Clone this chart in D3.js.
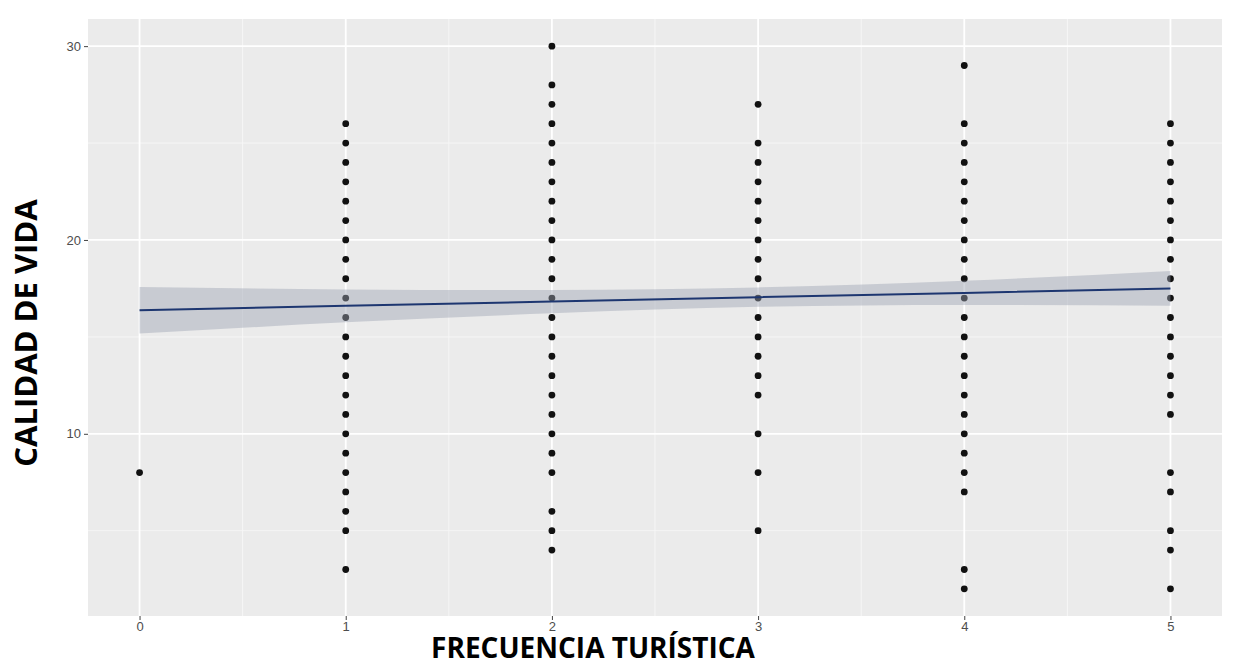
<!DOCTYPE html>
<html>
<head>
<meta charset="utf-8">
<script src="https://cdn.jsdelivr.net/npm/d3@7"></script>
<style>
  body { margin: 0; background: #fff; }
  svg { display: block; }
</style>
</head>
<body>
<div id="chart"></div>
<script>
// Frecuencia turistica (x) -> observed values of calidad de vida (y)
var freq0 = [8];
var freq1 = [26, 25, 24, 23, 22, 21, 20, 19, 18, 17, 16, 15, 14, 13, 12, 11, 10, 9, 8, 7, 6, 5, 3];
var freq2 = [30, 28, 27, 26, 25, 24, 23, 22, 21, 20, 19, 18, 17, 16, 15, 14, 13, 12, 11, 10, 9, 8, 6, 5, 4];
var freq3 = [27, 25, 24, 23, 22, 21, 20, 19, 18, 17, 16, 15, 14, 13, 12, 10, 8, 5];
var freq4 = [29, 26, 25, 24, 23, 22, 21, 20, 19, 18, 17, 16, 15, 14, 13, 12, 11, 10, 9, 8, 7, 3, 2];
var freq5 = [26, 25, 24, 23, 22, 21, 20, 19, 18, 17, 16, 15, 14, 13, 12, 11, 8, 7, 5, 4, 2];

// linear fit and its confidence band
var fitX = [0, 1, 2, 3, 4, 5];
var fitY = [16.37, 16.6, 16.82, 17.05, 17.27, 17.5];
var fitLow = [15.17, 15.75, 16.22, 16.55, 16.65, 16.6];
var fitHigh = [17.57, 17.45, 17.42, 17.55, 17.89, 18.4];

var xTicks = [0, 1, 2, 3, 4, 5];
var yTicks = [10, 20, 30];

var width = 1239, height = 665;
var panel = {left: 88, right: 1222, top: 19, bottom: 616};

var svg = d3.select("#chart").append("svg").attr("width", width).attr("height", height);

var x = d3.scaleLinear().domain([-0.25, 5.25]).range([panel.left, panel.right]);
var y = d3.scaleLinear().domain([0.6, 31.4]).range([panel.bottom, panel.top]);

// panel background
svg.append("rect")
    .attr("x", panel.left).attr("y", panel.top)
    .attr("width", panel.right - panel.left).attr("height", panel.bottom - panel.top)
    .attr("fill", "#ebebeb");

// minor grid
var minorX = [0.5, 1.5, 2.5, 3.5, 4.5];
var minorY = [5, 15, 25];
var grid = svg.append("g");
grid.selectAll(".mx").data(minorX).enter().append("line")
    .attr("x1", d => x(d)).attr("x2", d => x(d))
    .attr("y1", panel.top).attr("y2", panel.bottom)
    .attr("stroke", "#f7f7f7").attr("stroke-width", 0.9);
grid.selectAll(".my").data(minorY).enter().append("line")
    .attr("y1", d => y(d)).attr("y2", d => y(d))
    .attr("x1", panel.left).attr("x2", panel.right)
    .attr("stroke", "#f7f7f7").attr("stroke-width", 0.9);
// major grid
grid.selectAll(".gx").data(xTicks).enter().append("line")
    .attr("x1", d => x(d)).attr("x2", d => x(d))
    .attr("y1", panel.top).attr("y2", panel.bottom)
    .attr("stroke", "#ffffff").attr("stroke-width", 1.8);
grid.selectAll(".gy").data(yTicks).enter().append("line")
    .attr("y1", d => y(d)).attr("y2", d => y(d))
    .attr("x1", panel.left).attr("x2", panel.right)
    .attr("stroke", "#ffffff").attr("stroke-width", 1.8);

// points
var columns = [freq0, freq1, freq2, freq3, freq4, freq5];
var points = [];
columns.forEach(function(vals, i) {
    vals.forEach(function(v) { points.push({f: i, v: v}); });
});
svg.append("g").selectAll("circle").data(points).enter().append("circle")
    .attr("cx", d => x(d.f)).attr("cy", d => y(d.v))
    .attr("r", 3.4)
    .attr("fill", "#111");

// confidence band + fit line
var band = fitX.map(function(d, i) { return {x: d, lo: fitLow[i], hi: fitHigh[i], y: fitY[i]}; });
svg.append("path").datum(band)
    .attr("d", d3.area().curve(d3.curveNatural)
        .x(d => x(d.x)).y0(d => y(d.lo)).y1(d => y(d.hi)))
    .attr("fill", "#9ea3b3").attr("fill-opacity", 0.45);
svg.append("path").datum(band)
    .attr("d", d3.line().x(d => x(d.x)).y(d => y(d.y)))
    .attr("fill", "none").attr("stroke", "#1d3670").attr("stroke-width", 2);

// axes
var xAxis = svg.append("g").attr("transform", "translate(0," + panel.bottom + ")")
    .call(d3.axisBottom(x).tickValues(xTicks).tickFormat(d3.format("d")).tickSize(4).tickPadding(2));
var yAxis = svg.append("g").attr("transform", "translate(" + panel.left + ",0)")
    .call(d3.axisLeft(y).tickValues(yTicks).tickSize(4).tickPadding(3));
[xAxis, yAxis].forEach(function(a) {
    a.select(".domain").remove();
    a.selectAll(".tick line").attr("stroke", "#444");
    a.selectAll("text").attr("fill", "#4d4d4d")
        .style("font-family", "'Liberation Sans', Arial, sans-serif").style("font-size", "13px");
});

// axis titles
svg.append("text")
    .attr("x", 593).attr("y", 658)
    .attr("text-anchor", "middle")
    .style("font-family", "'Open Sans', sans-serif").style("font-weight", "bold").style("font-size", "28px")
    .attr("fill", "#000")
    .text("FRECUENCIA TURÍSTICA");
svg.append("text")
    .attr("transform", "translate(37,333) rotate(-90)")
    .attr("text-anchor", "middle")
    .style("font-family", "'Open Sans', sans-serif").style("font-weight", "bold").style("font-size", "31px")
    .attr("fill", "#000")
    .text("CALIDAD DE VIDA");
</script>
</body>
</html>
